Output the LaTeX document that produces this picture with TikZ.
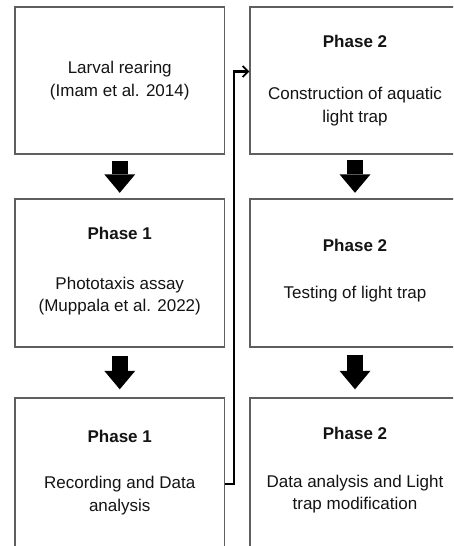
\documentclass[tikz,border=0pt]{standalone}
\usepackage{fontspec}
\setmainfont{Liberation Sans}
\usetikzlibrary{arrows.meta}
\definecolor{boxgray}{RGB}{95,95,95}
\tikzset{
  stagebox/.style={draw=boxgray, line width=1.4pt, inner sep=0pt, minimum width=209.5pt},
  txt/.style={anchor=base, inner sep=0pt, font=\fontsize{17pt}{22pt}\selectfont, text=black!92},
  phase/.style={txt, font=\fontsize{17pt}{22pt}\selectfont\bfseries},
  blockarrow/.style={line width=16pt, -{Triangle[length=18.5pt, width=31pt, line width=0pt]}},
  link/.style={line width=2.2pt, black, -{Straight Barb[length=5.5pt, width=11pt, line width=1.8pt]}}
}
\begin{document}
\begin{tikzpicture}[x=1pt, y=-1pt]
  \useasboundingbox (0,0) rectangle (453,546);
  \clip (0,0) rectangle (453,546);
  \fill[white] (0,0) rectangle (453,546);

  % left column
  \node[stagebox, minimum height=147pt] (L1) at (119.75,80.5) {};
  \node[stagebox, minimum height=148pt] (L2) at (119.75,273) {};
  \node[stagebox, minimum height=172pt] (L3) at (119.75,484) {};
  % right column (runs past the right and bottom edges)
  \node[stagebox, minimum width=210pt, minimum height=147pt] (R1) at (355,80.5) {};
  \node[stagebox, minimum width=210pt, minimum height=148pt] (R2) at (355,273) {};
  \node[stagebox, minimum width=210pt, minimum height=172pt] (R3) at (355,484) {};

  % texts, left column
  \node[txt] (l1a) at (119.75,73) {Larval rearing};
  \node[txt] (l1b) at (119.75,96) {(Imam et al. 2014)};
  \node[phase] (l2p) at (119.75,239) {Phase 1};
  \node[txt] (l2a) at (119.75,289) {Phototaxis assay};
  \node[txt] (l2b) at (119.75,311.5) {(Muppala et al. 2022)};
  \node[phase] (l3p) at (119.75,442) {Phase 1};
  \node[txt] (l3a) at (119.75,488) {Recording and Data};
  \node[txt] (l3b) at (119.75,511) {analysis};

  % texts, right column
  \node[phase] (r1p) at (355,47.5) {Phase 2};
  \node[txt] (r1a) at (355,99) {Construction of aquatic};
  \node[txt] (r1b) at (355,122) {light trap};
  \node[phase] (r2p) at (355,251) {Phase 2};
  \node[txt] (r2a) at (355,298) {Testing of light trap};
  \node[phase] (r3p) at (355,439) {Phase 2};
  \node[txt] (r3a) at (355,487) {Data analysis and Light};
  \node[txt] (r3b) at (355,509.5) {trap modification};

  % block arrows between stages
  \draw[blockarrow] ([yshift=-6pt]L1.south) -- ([yshift=5.5pt]L2.north);
  \draw[blockarrow] ([yshift=-8pt]L2.south) -- ([yshift=8pt]L3.north);
  \draw[blockarrow] ([yshift=-5pt]R1.south) -- ([yshift=5.5pt]R2.north);
  \draw[blockarrow] ([yshift=-7pt]R2.south) -- ([yshift=8pt]R3.north);

  % link from the end of phase 1 to the start of phase 2
  \draw[link] (L3.east) -- ++(9,0) |- ([yshift=9pt]R1.west);
\end{tikzpicture}
\end{document}
